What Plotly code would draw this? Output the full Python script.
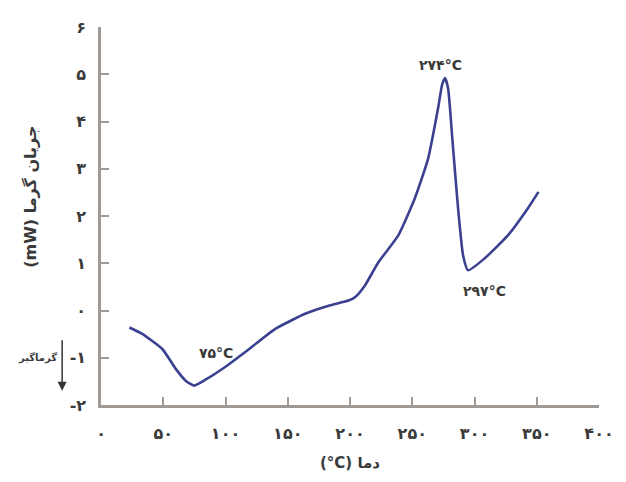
import plotly.graph_objects as go

# Data
temp_c = [22.8, 33.4, 49.4, 60.2, 68.2, 74.8, 84.2, 100, 118.8, 140, 164, 182.8, 198.8,
          204, 212, 222.8, 238.8, 252, 262.8, 270.8, 274.0, 276.3, 278.8, 282.3, 286.8, 290.8,
          294.8, 308, 326.8, 342.8, 351.4]
heat_flow = [-0.36, -0.5, -0.82, -1.24, -1.49, -1.59, -1.46, -1.19, -0.82, -0.39, -0.07, 0.10, 0.21,
             0.28, 0.53, 1.02, 1.59, 2.37, 3.22, 4.29, 4.78, 4.92, 4.70, 3.60, 2.16, 1.17,
             0.85, 1.1, 1.59, 2.16, 2.51]

x_tickvals = [0, 50, 100, 150, 200, 250, 300, 350, 400]
x_ticktext = ["۰", "۵۰", "۱۰۰", "۱۵۰", "۲۰۰", "۲۵۰", "۳۰۰", "۳۵۰", "۴۰۰"]
y_tickvals = [-2, -1, 0, 1, 2, 3, 4, 5, 6]
y_ticktext = ["-۲", "-۱", "۰", "۱", "۲", "۳", "۴", "۵", "۶"]

peak_labels = ["۷۵°C", "۲۷۴°C", "۲۹۷°C"]
peak_x = [92, 273, 308]
peak_y = [-0.9, 5.2, 0.42]

FONT = "DejaVu Sans"
AXIS_COLOR = "#a09a96"
TEXT_COLOR = "#3a3a3a"

fig = go.Figure()
fig.add_trace(go.Scatter(
    x=temp_c, y=heat_flow, mode="lines",
    line=dict(color="#3b4190", width=2.6, shape="spline", smoothing=0.5),
    hoverinfo="skip", showlegend=False,
))

for t, xv, yv in zip(peak_labels, peak_x, peak_y):
    fig.add_annotation(x=xv, y=yv, text=t, showarrow=False,
                       font=dict(family=FONT, size=14, color=TEXT_COLOR, weight="bold"))

# y-axis title (rotated)
fig.add_annotation(xref="paper", yref="paper", x=-0.12, xanchor="right", y=0.55,
                   text="(mW) جریان گرما", textangle=-90, showarrow=False,
                   font=dict(family=FONT, size=16, color=TEXT_COLOR, weight="bold"))
# endothermic marker
fig.add_annotation(xref="paper", yref="y", x=-0.078, y=-1.7, ax=0, ay=-52,
                   text="", showarrow=True, arrowhead=2, arrowsize=1.2,
                   arrowwidth=1.5, arrowcolor="#333333")
fig.add_annotation(xref="paper", yref="y", x=-0.127, y=-1.0, xanchor="center",
                   text="گرماگیر", showarrow=False,
                   font=dict(family=FONT, size=10, color=TEXT_COLOR, weight="bold"))

fig.update_layout(
    width=626, height=482,
    margin=dict(l=101, r=24, t=27, b=77),
    paper_bgcolor="white", plot_bgcolor="white",
    font=dict(family=FONT, size=14, color=TEXT_COLOR),
    xaxis=dict(range=[0, 400], tickvals=x_tickvals, ticktext=x_ticktext,
               ticks="inside", ticklen=8, tickwidth=2, tickcolor=AXIS_COLOR,
               showline=True, linecolor=AXIS_COLOR, linewidth=2.5,
               showgrid=False, zeroline=False, ticklabelstandoff=12,
               tickfont=dict(family=FONT, size=16, color=TEXT_COLOR, weight="bold"),
               title=dict(text="(°C) دما", standoff=16,
                          font=dict(family=FONT, size=15, color=TEXT_COLOR, weight="bold"))),
    yaxis=dict(range=[-2, 6], tickvals=y_tickvals, ticktext=y_ticktext,
               ticks="inside", ticklen=8, tickwidth=2, tickcolor=AXIS_COLOR,
               showline=True, linecolor=AXIS_COLOR, linewidth=2.5,
               showgrid=False, zeroline=False, ticklabelstandoff=9,
               tickfont=dict(family=FONT, size=16, color=TEXT_COLOR, weight="bold")),
)

fig.write_html("out.html")
